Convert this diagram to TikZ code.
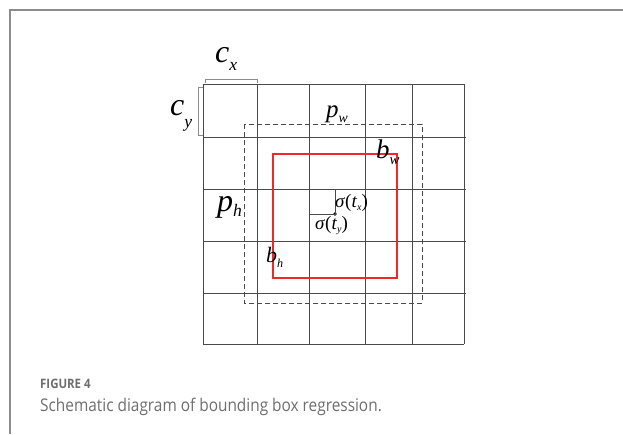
\documentclass[tikz,border=0pt]{standalone}
\usepackage{fontspec}
\setmainfont{Liberation Serif}
\newfontfamily\capfont[FakeStretch=0.88]{Open Sans}
\usetikzlibrary{positioning}
\definecolor{gridgray}{HTML}{4A4A4A}
\definecolor{framegray}{HTML}{8C8C8C}
\definecolor{capgray}{HTML}{6E6E6E}
\definecolor{boxred}{HTML}{F02828}
% letter with a dropped subscript
\newcommand{\sublbl}[4]{\fontsize{#3}{#3}\selectfont\itshape #1\raisebox{-#4pt}{\fontsize{0.55\dimexpr#3pt\relax}{1}\selectfont #2}}

\begin{document}
\begin{tikzpicture}[
    x=1pt, y=-1pt,
    gridline/.style={draw=gridgray, line width=0.9pt},
    anchorbox/.style={draw=gridgray, line width=0.9pt, dash pattern=on 5pt off 3pt},
    predbox/.style={draw=boxred, line width=1.3pt},
    brace/.style={draw=framegray, line width=0.9pt},
    lbl/.style={inner sep=0pt, anchor=base west},
    siglbl/.style={inner sep=0pt, anchor=base west, font=\fontsize{19}{19}\selectfont},
]
\useasboundingbox (0,0) rectangle (623,434);

% Panel frame
\draw[draw=framegray, line width=1.2pt] (623,10) -- (10,10) -- (10,434);

% Grid of cells
\foreach \x in {203,257,309,365,412,464}
  \draw[gridline] (\x,84) -- (\x,344);
\foreach \y in {84,344}
  \draw[gridline] (203,\y) -- (464,\y);
\foreach \y in {137,189,241,293}
  \draw[gridline] (203,\y) -- (466,\y);

% Anchor (prior) box and predicted box
\draw[anchorbox] (244,124) rectangle (422,303);
\draw[predbox] (273,154) rectangle (397,278);

% Cell size brackets
\draw[brace] (205,83) -- (205,79) -- (257,79) -- (257,83);
\draw[brace] (203,87) -- (198,87) -- (198,135) -- (203,135);

% Offset of the centre within its cell
\coordinate (cellc) at (309,214);
\coordinate (cellt) at (335,189);
\fill[black] (335,214) circle (1.8pt) coordinate (ctr);
\draw[gridline, line width=0.7pt] (cellc) -- (ctr) -- (cellt);

% Labels
\node[lbl] (cx) at (215,62) {\sublbl{c}{x}{32}{8}};
\node[lbl] (cy) at (170,115) {\sublbl{c}{y}{32}{12}};
\node[lbl] (pw) at (326,117) {\sublbl{p}{w}{25}{5}};
\node[lbl] (bw) at (376,158) {\sublbl{b}{w}{27}{6}};
\node[lbl] (ph) at (217,211) {\sublbl{p}{h}{32}{5}};
\node[lbl] (bh) at (266,262) {\sublbl{b}{h}{22}{5}};
\node[siglbl] (sx) at (335,207) {\textit{σ}(\textit{t}\raisebox{-3pt}{\fontsize{10}{10}\selectfont\textit{x}})};
\node[siglbl] (sy) at (315,229) {\textit{σ}(\textit{t}\raisebox{-3pt}{\fontsize{10}{10}\selectfont\textit{y}})};

% Caption
\node[inner sep=0pt, anchor=base west, font=\capfont\bfseries\fontsize{13}{14}\selectfont, text=capgray] (fig) at (40,388) {FIGURE 4};
\node[inner sep=0pt, anchor=base west, font=\capfont\fontsize{17.5}{18}\selectfont, text=capgray] (cap) at (40,411) {Schematic diagram of bounding box regression.};
\end{tikzpicture}
\end{document}
